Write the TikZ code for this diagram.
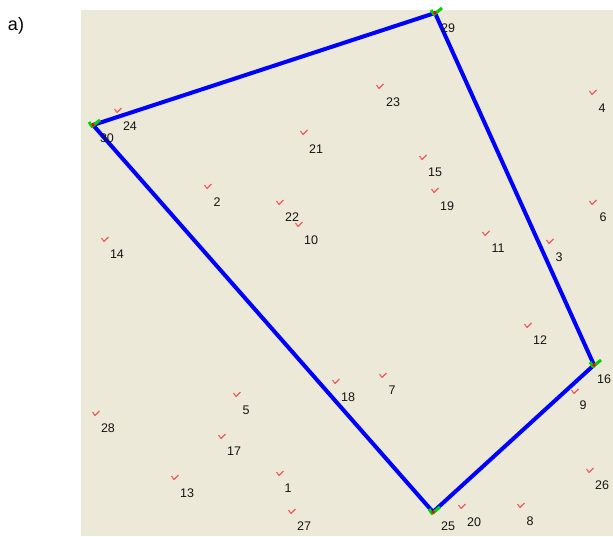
\documentclass[tikz,border=0pt]{standalone}
\usepackage{fontspec}
\setmainfont{Liberation Sans}
\definecolor{panelbg}{RGB}{236,233,216}
\definecolor{markred}{RGB}{240,90,90}
\definecolor{polyblue}{RGB}{0,0,255}
\definecolor{vgreen}{RGB}{0,210,0}
\tikzset{
  lbl/.style={font=\fontsize{12.5}{13}\selectfont, text=black!92, inner sep=0pt},
  chk/.pic={\draw[markred, line width=1.1pt, line join=round] (-3.5,-1) -- (-1,2.5) -- (3.5,-2);},
  vchk/.pic={\draw[vgreen, line width=3pt, line join=round] (-4,-3) -- (-1,1.5) -- (7,-5);
             \fill[red] (0,0) circle (1.8);},
  edge/.style={polyblue, line width=4pt, line join=round, line cap=round},
}
\begin{document}
\begin{tikzpicture}[x=1pt,y=-1pt]
\useasboundingbox (0,0) rectangle (613,536);
\fill[white] (0,0) rectangle (613,536);
\fill[panelbg] (81,10) rectangle (613,536);
\node[font=\fontsize{18}{19}\selectfont, inner sep=0pt] (title) at (16,26) {a)};
% points: name, mark position, label position
\foreach \n/\mx/\my/\lx/\ly in {
  1/280/473/288/488, 2/208/186/217/202, 3/550/241/559/257, 4/593/92/602/108,
  5/237/394/246/410, 6/593/202/603/217, 7/383/375/392/390, 8/521/505/530/521,
  9/575/391/583/405, 10/299/224/311/240, 11/486/233/498/248, 12/528/325/540/340,
  13/175/477/187/493, 14/105/239/117/254, 15/423/157/435/172, 17/222/436/234/451,
  18/336/381/348/397, 19/435/190/447/206, 20/462/506/474/522, 21/304/132/316/149,
  22/280/202/292/217, 23/380/86/393/102, 24/118/110/130/126, 26/590/470/602/485,
  27/292/511/304/526, 28/96/413/108/428}{
  \coordinate (p\n) at (\mx,\my);
  \pic at (p\n) {chk};
  \node[lbl] (l\n) at (\lx,\ly) {\n};
}
% polygon vertices
\coordinate (p29) at (435,13);
\coordinate (p16) at (594,365);
\coordinate (p25) at (433,512);
\coordinate (p30) at (93,125);
\draw[edge] (p29) -- (p16) -- (p25) -- (p30) -- cycle;
\foreach \n in {29,16,25,30}{ \pic at (p\n) {vchk}; }
\node[lbl] (l29) at (448,28) {29};
\node[lbl] (l16) at (604,379) {16};
\node[lbl] (l25) at (448,526) {25};
\node[lbl] (l30) at (107,138) {30};
\end{tikzpicture}
\end{document}
